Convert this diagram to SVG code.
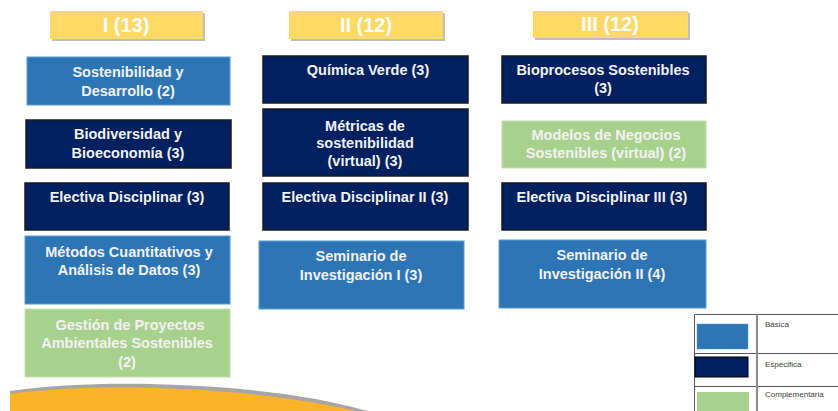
<svg xmlns="http://www.w3.org/2000/svg" width="838" height="411" viewBox="0 0 838 411">
<style>
.hdr{fill:#FFD966}
.hs{fill:#BFBFBF}
.ht{font-family:"Liberation Sans",sans-serif;font-weight:bold;font-size:20px;fill:#FFFFFF;text-anchor:middle}
.b{fill:#2E75B6;stroke:#5B9BD5;stroke-width:1}
.e{fill:#002060;stroke:#1A1A1A;stroke-width:1.5}
.c{fill:#A9D18E;stroke:#C5E0B4;stroke-width:1}
.t{font-family:"Liberation Sans",sans-serif;font-weight:bold;font-size:14.5px;fill:#F2F2F2;text-anchor:middle}
.lg{font-family:"Liberation Sans",sans-serif;font-size:8px;fill:#404040}
.ln{stroke:#595959;stroke-width:1;fill:none}
</style>

<g id="wave">
<path d="M10,391 C80,381 170,382 250,390 C300,395 335,402 368,411 L10,411 Z" fill="#A6A6A6"/>
<path d="M10,394 C80,385 170,386 250,394 C295,399 325,404 355,411 L10,411 Z" fill="#FBB427"/>
</g>

<g id="hdr1">
<rect class="hs" x="52" y="13" width="153" height="28"/>
<rect class="hdr" x="50" y="11" width="153" height="28"/>
<text class="ht" x="126" y="32">I (13)</text>
</g>
<g id="hdr2">
<rect class="hs" x="291" y="13" width="154" height="28"/>
<rect class="hdr" x="289" y="11" width="154" height="28"/>
<text class="ht" x="366" y="32">II (12)</text>
</g>
<g id="hdr3">
<rect class="hs" x="535" y="13" width="155" height="27"/>
<rect class="hdr" x="533" y="11" width="155" height="27"/>
<text class="ht" x="610" y="31">III (12)</text>
</g>

<g id="n1">
<rect class="b" x="27" y="57" width="203" height="48"/>
<text class="t" x="128" y="77">Sostenibilidad y</text>
<text class="t" x="128" y="96">Desarrollo (2)</text>
</g>
<g id="n2">
<rect class="e" x="26" y="120" width="205" height="48"/>
<text class="t" x="128" y="139">Biodiversidad y</text>
<text class="t" x="128" y="158">Bioeconomía (3)</text>
</g>
<g id="n3">
<rect class="e" x="25" y="183" width="204" height="47"/>
<text class="t" x="127" y="202">Electiva Disciplinar (3)</text>
</g>
<g id="n4">
<rect class="b" x="25" y="236" width="205" height="68"/>
<text class="t" x="129" y="257">Métodos Cuantitativos y</text>
<text class="t" x="129" y="275">Análisis de Datos (3)</text>
</g>
<g id="n5">
<rect class="c" x="25" y="309" width="205" height="68"/>
<text class="t" x="130" y="330">Gestión  de Proyectos</text>
<text class="t" x="127" y="348">Ambientales Sostenibles</text>
<text class="t" x="127" y="367">(2)</text>
</g>

<g id="n6">
<rect class="e" x="263" y="56" width="205" height="47"/>
<text class="t" x="368" y="75">Química Verde (3)</text>
</g>
<g id="n7">
<rect class="e" x="263" y="109" width="205" height="67"/>
<text class="t" x="365" y="131">Métricas de</text>
<text class="t" x="365" y="148">sostenibilidad</text>
<text class="t" x="365" y="166">(virtual) (3)</text>
</g>
<g id="n8">
<rect class="e" x="263" y="183" width="205" height="47"/>
<text class="t" x="365" y="202">Electiva Disciplinar II (3)</text>
</g>
<g id="n9">
<rect class="b" x="259" y="241" width="205" height="68"/>
<text class="t" x="361" y="261">Seminario de</text>
<text class="t" x="361" y="280">Investigación I (3)</text>
</g>

<g id="n10">
<rect class="e" x="502" y="56" width="204" height="47"/>
<text class="t" x="603" y="75">Bioprocesos Sostenibles</text>
<text class="t" x="603" y="93">(3)</text>
</g>
<g id="n11">
<rect class="c" x="502" y="121" width="204" height="47"/>
<text class="t" x="606" y="140">Modelos de Negocios</text>
<text class="t" x="606" y="158">Sostenibles (virtual) (2)</text>
</g>
<g id="n12">
<rect class="e" x="502" y="183" width="204" height="47"/>
<text class="t" x="602" y="202">Electiva Disciplinar III (3)</text>
</g>
<g id="n13">
<rect class="b" x="499" y="240" width="207" height="68"/>
<text class="t" x="602" y="260">Seminario de</text>
<text class="t" x="602" y="279">Investigación II (4)</text>
</g>

<g id="legend">
<path class="ln" d="M694.5,411 V314.5 H838 M694.5,353.5 H838 M694.5,386.5 H838"/>
<path d="M757,314 V411" stroke="#8C8C8C" stroke-width="2"/>
<rect x="697" y="324" width="51" height="25" fill="#2E75B6" stroke="#5B9BD5" stroke-width="0.5"/>
<rect x="695" y="357" width="53" height="20" fill="#002060" stroke="#000000" stroke-width="1"/>
<rect x="697" y="392" width="52" height="19" fill="#A9D18E"/>
<text class="lg" x="765" y="327">Básica</text>
<text class="lg" x="765" y="367">Especifica</text>
<text class="lg" x="765" y="397">Complementaria</text>
</g>
</svg>
